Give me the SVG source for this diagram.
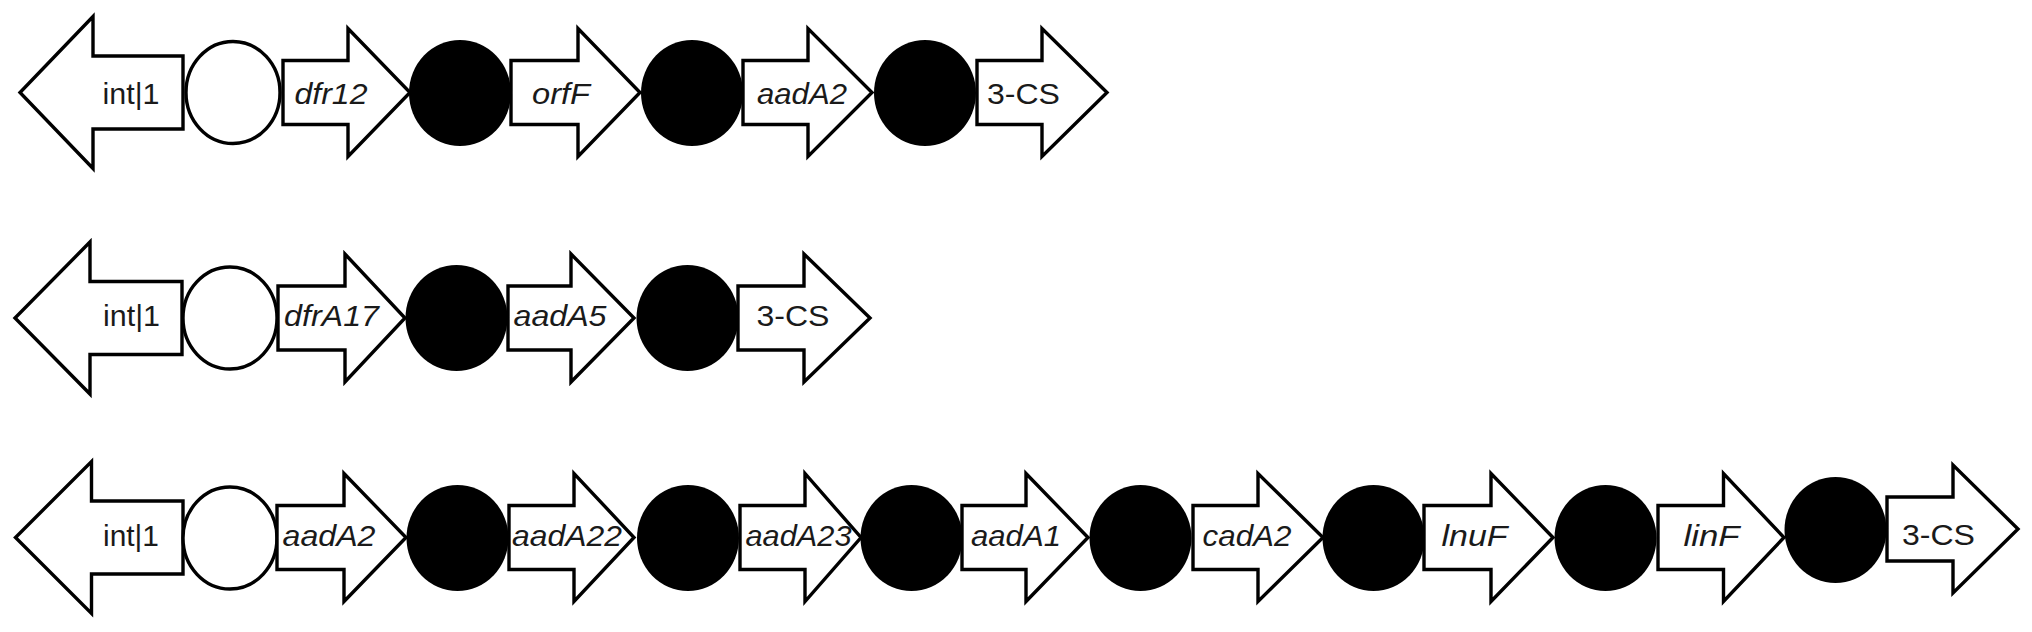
<svg xmlns="http://www.w3.org/2000/svg" width="2032" height="632" viewBox="0 0 2032 632">
<style>
.ar{fill:#fff;stroke:#000;stroke-width:3.4;stroke-linejoin:miter}
.oc{fill:#fff;stroke:#000;stroke-width:3.4}
.bc{fill:#000;stroke:none}
text{font-family:"Liberation Sans",Arial,sans-serif;font-size:29px;fill:#1a1a1a;text-anchor:middle}
.g{font-style:italic}
</style>
<rect width="2032" height="632" fill="#fff"/>
<!-- Row 1 -->
<g id="r1">
<g id="r1-intI1"><path class="ar" d="M183,56 H93 V16.5 L20,92.5 L93,168.5 V129 H183 Z"/><text x="131" y="103.5" textLength="57" lengthAdjust="spacingAndGlyphs">int|1</text></g>
<g id="r1-attI"><ellipse class="oc" cx="233" cy="92.5" rx="47" ry="51"/></g>
<g id="r1-dfr12"><path class="ar" d="M283,60.5 H348 V28.5 L410,92.5 L348,156.5 V124.5 H283 Z"/><text class="g" x="331" y="103.5" textLength="73" lengthAdjust="spacingAndGlyphs">dfr12</text></g>
<g id="r1-c1"><ellipse class="bc" cx="460" cy="93" rx="51" ry="53"/></g>
<g id="r1-orfF"><path class="ar" d="M511,60.5 H578 V28.5 L640,92.5 L578,156.5 V124.5 H511 Z"/><text class="g" x="561" y="103.5" textLength="58" lengthAdjust="spacingAndGlyphs">orfF</text></g>
<g id="r1-c2"><ellipse class="bc" cx="692" cy="93" rx="51" ry="53"/></g>
<g id="r1-aadA2"><path class="ar" d="M743,60.5 H808 V28.5 L872,92.5 L808,156.5 V124.5 H743 Z"/><text class="g" x="802" y="103.5" textLength="90" lengthAdjust="spacingAndGlyphs">aadA2</text></g>
<g id="r1-c3"><ellipse class="bc" cx="925" cy="93" rx="51" ry="53"/></g>
<g id="r1-3CS"><path class="ar" d="M977,60.5 H1042 V28.5 L1107,92.5 L1042,156.5 V124.5 H977 Z"/><text x="1023.5" y="103.5" textLength="73" lengthAdjust="spacingAndGlyphs">3-CS</text></g>
</g>
<!-- Row 2 -->
<g id="r2">
<g id="r2-intI1"><path class="ar" d="M182,281.5 H90 V242 L15,318 L90,394 V354.5 H182 Z"/><text x="131.5" y="326" textLength="57" lengthAdjust="spacingAndGlyphs">int|1</text></g>
<g id="r2-attI"><ellipse class="oc" cx="230" cy="318" rx="47" ry="51"/></g>
<g id="r2-dfrA17"><path class="ar" d="M278,286 H345 V254 L405,318 L345,382 V350 H278 Z"/><text class="g" x="331.5" y="326" textLength="95" lengthAdjust="spacingAndGlyphs">dfrA17</text></g>
<g id="r2-c1"><ellipse class="bc" cx="456.5" cy="318" rx="51" ry="53"/></g>
<g id="r2-aadA5"><path class="ar" d="M508,286 H571 V254 L634,318 L571,382 V350 H508 Z"/><text class="g" x="560" y="326" textLength="93" lengthAdjust="spacingAndGlyphs">aadA5</text></g>
<g id="r2-c2"><ellipse class="bc" cx="687.5" cy="318" rx="51" ry="53"/></g>
<g id="r2-3CS"><path class="ar" d="M738,286 H804 V254 L870,318 L804,382 V350 H738 Z"/><text x="793" y="326" textLength="73" lengthAdjust="spacingAndGlyphs">3-CS</text></g>
</g>
<!-- Row 3 -->
<g id="r3">
<g id="r3-intI1"><path class="ar" d="M183,501 H91.5 V461.5 L15.5,537.5 L91.5,613.5 V574 H183 Z"/><text x="131" y="546" textLength="56" lengthAdjust="spacingAndGlyphs">int|1</text></g>
<g id="r3-attI"><ellipse class="oc" cx="230" cy="538" rx="47" ry="51"/></g>
<g id="r3-aadA2"><path class="ar" d="M277,505.5 H344 V473.5 L406,537.5 L344,601.5 V569.5 H277 Z"/><text class="g" x="329" y="546" textLength="93" lengthAdjust="spacingAndGlyphs">aadA2</text></g>
<g id="r3-c1"><ellipse class="bc" cx="457.5" cy="538" rx="51" ry="53"/></g>
<g id="r3-aadA22"><path class="ar" d="M509,505.5 H574 V473.5 L634,537.5 L574,601.5 V569.5 H509 Z"/><text class="g" x="567" y="546" textLength="110" lengthAdjust="spacingAndGlyphs">aadA22</text></g>
<g id="r3-c2"><ellipse class="bc" cx="688" cy="538" rx="51" ry="53"/></g>
<g id="r3-aadA23"><path class="ar" d="M740,505.5 H805 V473.5 L861,537.5 L805,601.5 V569.5 H740 Z"/><text class="g" x="798.5" y="546" textLength="106" lengthAdjust="spacingAndGlyphs">aadA23</text></g>
<g id="r3-c3"><ellipse class="bc" cx="911.5" cy="538" rx="51" ry="53"/></g>
<g id="r3-aadA1"><path class="ar" d="M962,505.5 H1026 V473.5 L1088,537.5 L1026,601.5 V569.5 H962 Z"/><text class="g" x="1016" y="546" textLength="90" lengthAdjust="spacingAndGlyphs">aadA1</text></g>
<g id="r3-c4"><ellipse class="bc" cx="1140.5" cy="538" rx="51" ry="53"/></g>
<g id="r3-cadA2"><path class="ar" d="M1193,505.5 H1258 V473.5 L1323,537.5 L1258,601.5 V569.5 H1193 Z"/><text class="g" x="1247" y="546" textLength="89" lengthAdjust="spacingAndGlyphs">cadA2</text></g>
<g id="r3-c5"><ellipse class="bc" cx="1373.5" cy="538" rx="51" ry="53"/></g>
<g id="r3-lnuF"><path class="ar" d="M1424,505.5 H1491 V473.5 L1553,537.5 L1491,601.5 V569.5 H1424 Z"/><text class="g" x="1474.5" y="546" textLength="66" lengthAdjust="spacingAndGlyphs">lnuF</text></g>
<g id="r3-c6"><ellipse class="bc" cx="1605.5" cy="538" rx="51" ry="53"/></g>
<g id="r3-linF"><path class="ar" d="M1658,505.5 H1723.5 V473.5 L1784,537.5 L1723.5,601.5 V569.5 H1658 Z"/><text class="g" x="1711.5" y="546" textLength="56" lengthAdjust="spacingAndGlyphs">linF</text></g>
<g id="r3-c7"><ellipse class="bc" cx="1835.5" cy="530" rx="51" ry="53"/></g>
<g id="r3-3CS"><path class="ar" d="M1887,497 H1953 V465 L2018,529 L1953,593 V561 H1887 Z"/><text x="1938.5" y="545" textLength="73" lengthAdjust="spacingAndGlyphs">3-CS</text></g>
</g>
</svg>
